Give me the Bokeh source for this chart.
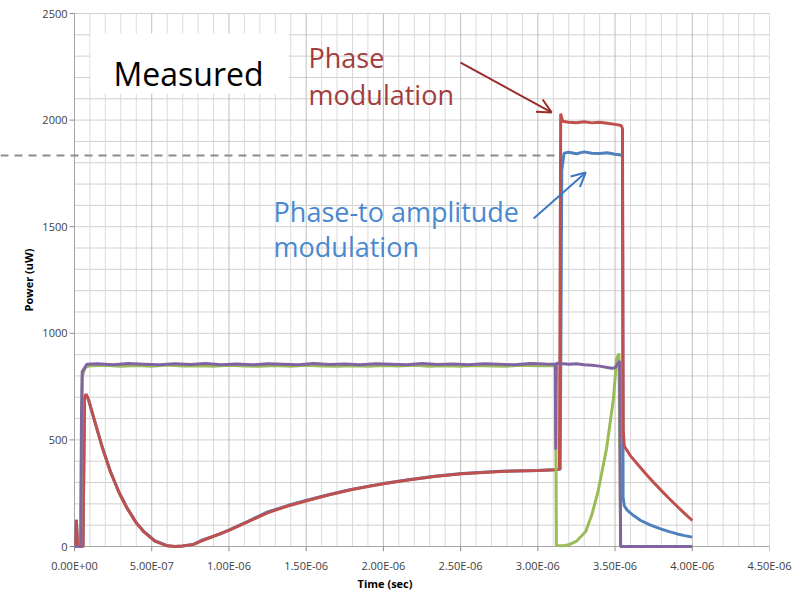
import math
from bokeh.plotting import figure
from bokeh.models import FixedTicker, Arrow, OpenHead, Label, BoxAnnotation
from bokeh.core.properties import value
from bokeh.embed import file_html
from bokeh.resources import INLINE

# ---------------- data (time in microseconds, power in uW) ----------------
x_ticks_us = [0.0, 0.5, 1.0, 1.5, 2.0, 2.5, 3.0, 3.5, 4.0, 4.5]
x_tick_labels = ["0.00E+00", "5.00E-07", "1.00E-06", "1.50E-06", "2.00E-06",
                 "2.50E-06", "3.00E-06", "3.50E-06", "4.00E-06", "4.50E-06"]
y_ticks = [0, 500, 1000, 1500, 2000, 2500]
y_tick_labels = ["0", "500", "1000", "1500", "2000", "2500"]
y_grid_levels = list(range(0, 2501, 100))
x_minor_ticks = [i / 10 for i in range(46)]
ref_level = 1834  # dashed reference level

blue_t = [0.0, 0.008, 0.012, 0.02, 0.055, 0.065, 0.075, 0.09, 0.125, 0.18, 0.232, 0.29,
          0.34, 0.40, 0.447, 0.52, 0.60, 0.65, 0.70, 0.77, 0.82, 0.94, 1.01, 1.12, 1.25,
          1.38, 1.51, 1.65, 1.79, 1.90, 2.00, 2.15, 2.33, 2.51, 2.76, 3.00, 3.11, 3.145,
          3.155, 3.17, 3.20, 3.25, 3.30, 3.35, 3.40, 3.45, 3.50, 3.54, 3.548, 3.552,
          3.56, 3.58, 3.62, 3.666, 3.73, 3.795, 3.85, 3.903, 3.95, 4.0]
blue_v = [0, 0, 125, 0, 0, 700, 712, 690, 602, 465, 352, 252, 182, 112, 72, 27, 4, 0,
          2, 10, 28, 58, 80, 117, 162, 192, 218, 244, 267, 282, 295, 312, 329, 342,
          353, 357, 360, 362, 1764, 1845, 1849, 1842, 1851, 1845, 1843, 1847, 1840,
          1836, 1830, 231, 190, 169, 145, 122, 100, 83, 70, 59, 51, 44]

red_t = [0.0, 0.008, 0.012, 0.02, 0.055, 0.065, 0.075, 0.09, 0.125, 0.18, 0.232, 0.29,
         0.34, 0.40, 0.447, 0.52, 0.60, 0.65, 0.70, 0.77, 0.82, 0.90, 1.00, 1.12, 1.25,
         1.38, 1.51, 1.65, 1.79, 1.90, 2.00, 2.15, 2.33, 2.51, 2.76, 3.00, 3.11, 3.14,
         3.148, 3.16, 3.20, 3.25, 3.30, 3.35, 3.40, 3.45, 3.50, 3.54, 3.548, 3.553,
         3.56, 3.60, 3.65, 3.70, 3.75, 3.80, 3.85, 3.90, 3.95, 4.0]
red_v = [0, 0, 125, 0, 0, 700, 715, 690, 602, 465, 352, 250, 180, 110, 70, 25, 3, 0,
         2, 10, 25, 48, 76, 115, 158, 190, 216, 243, 266, 281, 294, 311, 328, 341,
         352, 356, 360, 362, 2030, 1995, 1990, 1988, 1992, 1987, 1990, 1985, 1980,
         1975, 1960, 544, 470, 425, 382, 340, 300, 262, 225, 190, 155, 122]

green_t = [0.0, 0.04, 0.05, 0.07, 0.10, 0.20, 0.30, 0.40, 0.50, 0.60, 0.70, 0.80, 0.90,
           1.00, 1.10, 1.20, 1.30, 1.40, 1.50, 1.60, 1.70, 1.80, 1.90, 2.00, 2.10, 2.20,
           2.30, 2.40, 2.50, 2.60, 2.70, 2.80, 2.90, 3.00, 3.10, 3.115, 3.12, 3.16, 3.20,
           3.25, 3.31, 3.35, 3.39, 3.445, 3.49, 3.51, 3.525, 3.536, 4.0]
green_v = [0, 0, 800, 840, 848, 850, 846, 849, 845, 851, 847, 848, 846, 850, 847, 845,
           849, 846, 850, 847, 845, 848, 846, 849, 847, 850, 846, 848, 845, 849, 847,
           846, 850, 848, 849, 848, 5, 3, 8, 25, 70, 150, 258, 460, 695, 880, 905, 0, 0]

purple_t = [0.0, 0.04, 0.045, 0.05, 0.08, 0.15, 0.25, 0.35, 0.45, 0.55, 0.65, 0.75, 0.85,
            0.95, 1.05, 1.15, 1.25, 1.35, 1.45, 1.55, 1.65, 1.75, 1.85, 1.95, 2.05, 2.15,
            2.25, 2.35, 2.45, 2.55, 2.65, 2.75, 2.85, 2.95, 3.05, 3.113, 3.116, 3.12,
            3.15, 3.20, 3.25, 3.30, 3.35, 3.40, 3.45, 3.48, 3.50, 3.52, 3.53, 3.536, 4.0]
purple_v = [0, 0, 600, 820, 855, 857, 853, 858, 855, 852, 857, 854, 858, 853, 856, 852,
            857, 855, 853, 858, 854, 856, 852, 857, 855, 853, 858, 854, 856, 853, 857,
            855, 852, 858, 856, 855, 455, 860, 858, 855, 857, 852, 850, 846, 840, 836,
            838, 860, 870, 0, 0]

# ---------------- layout constants (pixels of the picture) ----------------
FONT = "Open Sans"
W, H = 808, 593
ZERO_X_PX, RIGHT_PX = 74, 769      # time 0 and time 4.5 us
TOP_PX, ZERO_Y_PX = 13, 546        # 2500 uW and 0 uW
TICK_PX = 5                        # outward tick length
FRAME_BOTTOM_PX = ZERO_Y_PX + TICK_PX
X_MAX, Y_MAX = 4.5, 2500

px_per_us = (RIGHT_PX - ZERO_X_PX) / X_MAX
px_per_uW = (ZERO_Y_PX - TOP_PX) / Y_MAX
x_lo = -ZERO_X_PX / px_per_us
y_hi = Y_MAX + TOP_PX / px_per_uW
y_lo = -TICK_PX / px_per_uW
def px(n):
    return n / px_per_us

p = figure(width=W, height=H, x_range=(x_lo, X_MAX), y_range=(y_lo, y_hi),
           output_backend="svg", toolbar_location=None, y_axis_location=None,
           min_border_left=0, min_border_right=W - RIGHT_PX,
           min_border_top=0, min_border_bottom=H - FRAME_BOTTOM_PX)
p.outline_line_color = None
p.xgrid.visible = False
p.ygrid.visible = False

# ---- x axis: real axis for labels and title; its line and ticks drawn at 0 uW ----
p.xaxis.bounds = (0, X_MAX)
p.xaxis.ticker = FixedTicker(ticks=x_ticks_us, minor_ticks=x_minor_ticks)
p.xaxis.major_label_overrides = dict(zip(x_ticks_us, x_tick_labels))
p.xaxis.axis_line_color = None
p.xaxis.major_tick_line_color = None
p.xaxis.major_tick_in = 0
p.xaxis.major_tick_out = 0
p.xaxis.minor_tick_line_color = None
p.xaxis.major_label_text_font = FONT
p.xaxis.major_label_text_font_size = "11px"
p.xaxis.major_label_text_color = "#404040"
p.xaxis.axis_label = "Time (sec)"
p.xaxis.axis_label_text_font = FONT
p.xaxis.axis_label_text_font_size = "11px"
p.xaxis.axis_label_text_font_style = "bold"
p.xaxis.axis_label_text_color = "#000000"
p.xaxis.major_label_standoff = 2
p.xaxis.axis_label_standoff = 0

# ---- grid over the data area only ----
n_h = len(y_grid_levels)
hg = p.segment(x0=[0] * n_h, x1=[X_MAX] * n_h, y0=y_grid_levels, y1=y_grid_levels,
               line_color="#D0D0D0", line_width=1)
hg.level = "underlay"
minor_x = [t for t in x_minor_ticks if t not in x_ticks_us]
vg = p.segment(x0=minor_x, x1=minor_x, y0=[0] * len(minor_x), y1=[Y_MAX] * len(minor_x),
               line_color="#DADADA", line_width=1)
vg.level = "underlay"
vg2 = p.segment(x0=x_ticks_us, x1=x_ticks_us, y0=[0] * len(x_ticks_us),
                y1=[Y_MAX] * len(x_ticks_us), line_color="#BEBEBE", line_width=1)
vg2.level = "underlay"

# x axis line and tick marks at 0 uW
p.segment(x0=[0], x1=[X_MAX], y0=[0], y1=[0], line_color="#A6A6A6", line_width=1)
p.segment(x0=x_ticks_us, x1=x_ticks_us, y0=[0] * len(x_ticks_us),
          y1=[y_lo] * len(x_ticks_us), line_color="#8C8C8C", line_width=1)

# ---- y axis drawn at time 0 ----
p.segment(x0=[0], x1=[0], y0=[0], y1=[Y_MAX], line_color="#A6A6A6", line_width=1)
p.segment(x0=[px(-TICK_PX)] * len(y_ticks), x1=[0] * len(y_ticks), y0=y_ticks, y1=y_ticks,
          line_color="#8C8C8C", line_width=1)
p.text(x=[px(-7)] * len(y_ticks), y=y_ticks, text=y_tick_labels,
       text_font=value(FONT), text_font_size="11px", text_color="#404040",
       text_align="right", text_baseline="middle")
p.add_layout(Label(x=px(-46), y=Y_MAX / 2, text="Power (uW)", angle=math.pi / 2,
                   text_font=FONT, text_font_size="11px", text_font_style="bold",
                   text_color="#000000", text_align="center", text_baseline="middle"))

# ---- series ----
LW = 3
p.line(blue_t, blue_v, line_color="#4F81BD", line_width=LW)
p.line(red_t, red_v, line_color="#C0504D", line_width=LW)
p.line(green_t, green_v, line_color="#9BBB59", line_width=LW)
p.line(purple_t, purple_v, line_color="#8064A2", line_width=LW)

# dashed reference line from the picture's left edge to the pulse
p.add_layout(Arrow(end=None, x_start=x_lo, y_start=ref_level, x_end=3.15, y_end=ref_level,
                   line_color="#8C8C8C", line_width=2, line_dash="8 6"))

# "Measured" box
p.add_layout(BoxAnnotation(left=0.104, right=1.386, bottom=2125, top=2406,
                           fill_color="white", fill_alpha=1.0, line_color=None))
p.add_layout(Label(x=0.2526, y=2218, text="Measured", text_font=FONT,
                   text_font_size="32px", text_color="#000000", text_baseline="alphabetic"))

red_txt = "#A33C3C"
blue_txt = "#4A88D0"
p.add_layout(Label(x=1.5155, y=2294, text="Phase", text_font=FONT, text_font_size="27px",
                   text_color=red_txt, text_baseline="alphabetic"))
p.add_layout(Label(x=1.5155, y=2120, text="modulation", text_font=FONT, text_font_size="27px",
                   text_color=red_txt, text_baseline="alphabetic"))
p.add_layout(Label(x=1.289, y=1571, text="Phase-to amplitude", text_font=FONT,
                   text_font_size="27px", text_color=blue_txt, text_baseline="alphabetic"))
p.add_layout(Label(x=1.289, y=1407, text="modulation", text_font=FONT, text_font_size="27px",
                   text_color=blue_txt, text_baseline="alphabetic"))

p.add_layout(Arrow(end=OpenHead(size=14, line_color="#9B2D2D", line_width=2),
                   x_start=2.50, y_start=2270, x_end=3.089, y_end=2036,
                   line_color="#9B2D2D", line_width=2))
p.add_layout(Arrow(end=OpenHead(size=14, line_color="#3E78C0", line_width=2),
                   x_start=2.973, y_start=1538, x_end=3.31, y_end=1754,
                   line_color="#3E78C0", line_width=2))

open("out.html", "w").write(file_html(p, INLINE))
